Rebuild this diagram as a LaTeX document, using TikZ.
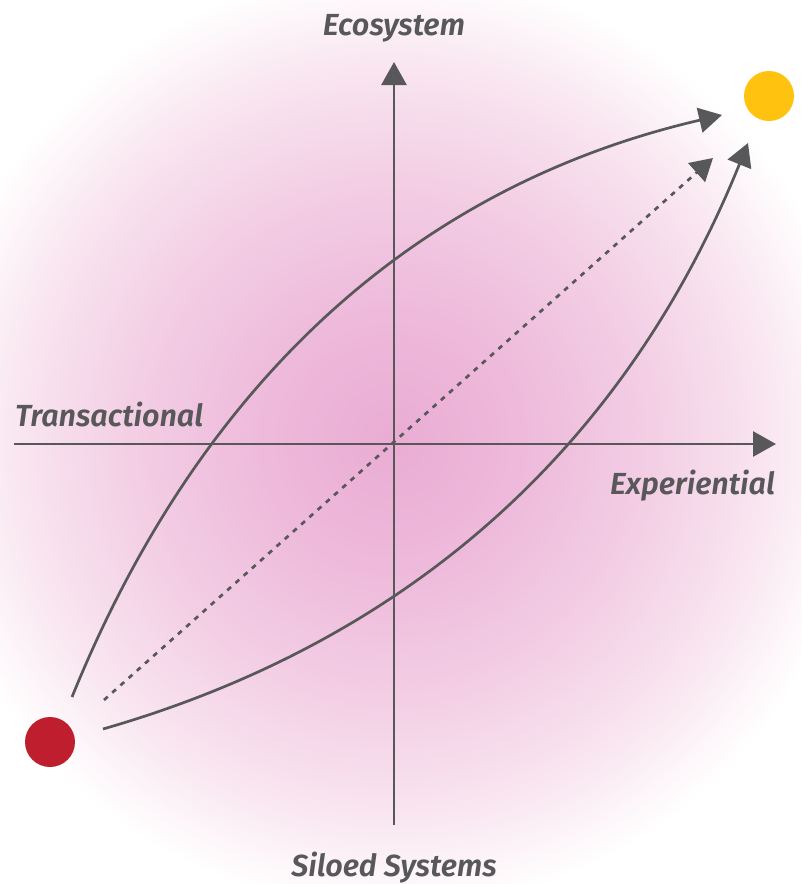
\documentclass[tikz,border=0pt]{standalone}
\usepackage{fontspec}
\setmainfont{Fira Sans}[ItalicFont={Fira Sans SemiBold Italic}]
\usetikzlibrary{arrows.meta}
\definecolor{ink}{RGB}{88,88,90}
\definecolor{redc}{RGB}{190,30,45}
\definecolor{yelc}{RGB}{255,194,14}
\definecolor{pk0}{RGB}{234,172,211}
\definecolor{pk1}{RGB}{238,186,219}
\definecolor{pk2}{RGB}{243,207,229}
\definecolor{pk3}{RGB}{249,230,240}
\pgfdeclareradialshading{bgshade}{\pgfpoint{0bp}{0bp}}{%
  color(0bp)=(pk0); color(7bp)=(pk1); color(14bp)=(pk2); color(20bp)=(pk3); color(25bp)=(white); color(50bp)=(white)}
\tikzset{
  axis/.style={draw=ink, line width=2.7pt, -{Triangle[length=23pt,width=25pt]}},
  curve/.style={draw=ink, line width=2.7pt, -{Triangle[length=23pt,width=25pt]}},
  dashline/.style={draw=ink, line width=2.7pt, dash pattern=on 5pt off 6pt, -{Triangle[length=22pt,width=25pt]}},
  lbl/.style={text=ink, font=\itshape\fontsize{30.5}{34}\selectfont, inner sep=0pt},
  dot/.style={circle, inner sep=0pt, minimum size=50pt},
}
\begin{document}
\begin{tikzpicture}[x=1pt,y=-1pt]
\useasboundingbox (0,0) rectangle (801,884);
\begin{scope}
\clip (0,0) rectangle (801,884);
\fill[white] (0,0) rectangle (801,884);
\shade[shading=bgshade] (392,440) circle[radius=470];
\end{scope}
% axes
\coordinate (yb) at (394,825);
\coordinate (yt) at (394,62);
\coordinate (xl) at (14,444);
\coordinate (xr) at (776,444);
\draw[axis] (yb) -- (yt);
\draw[axis] (xl) -- (xr);
% dots
\node[dot, fill=redc] (start) at (50,742) {};
\node[dot, fill=yelc] (goal) at (769,96) {};
% curves
\coordinate (us) at (72,697);
\coordinate (ue) at (722,115);
\coordinate (ls) at (103,729);
\coordinate (le) at (748,143);
\coordinate (ds) at (104,700);
\coordinate (de) at (713,158);
\draw[curve] (us) .. controls (200.7,379.7) and (417.3,185.7) .. (ue);
\draw[curve] (ls) .. controls (410.7,640.6) and (625.7,445.3) .. (le);
\draw[dashline] (ds) -- (de);
% labels
\node[lbl, anchor=base] (eco) at (394,35) {Ecosystem};
\node[lbl, anchor=base west] (tra) at (15,426) {Transactional};
\node[lbl, anchor=base east] (exp) at (775,494) {Experiential};
\node[lbl, anchor=base] (sil) at (394,876) {Siloed Systems};
\end{tikzpicture}
\end{document}
